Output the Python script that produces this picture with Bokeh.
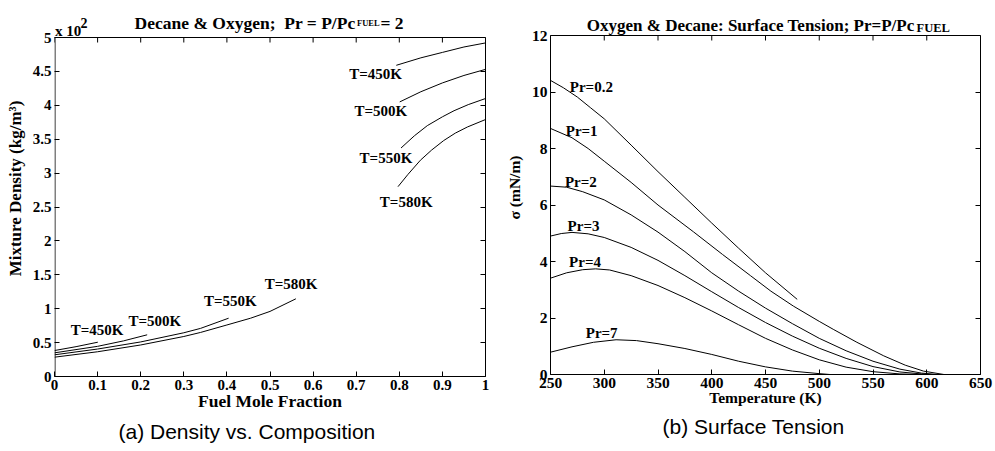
import math
from bokeh.plotting import figure
from bokeh.layouts import row
from bokeh.models import Range1d, FixedTicker, CustomJSTickFormatter, LinearAxis, Title
from bokeh.core.properties import value
from bokeh.embed import file_html
from bokeh.resources import INLINE

SERIF = "Liberation Serif"
SANS = "Liberation Sans"

# ---------------- (a) Density vs. Composition  (y in units of 100 kg/m^3)
x_ticks_a = [0, 0.1, 0.2, 0.3, 0.4, 0.5, 0.6, 0.7, 0.8, 0.9, 1.0]
y_ticks_a = [0, 0.5, 1, 1.5, 2, 2.5, 3, 3.5, 4, 4.5, 5]

# liquid branch
liq450_x = [0.793, 0.85, 0.9, 0.95, 1.0]
liq450_y = [4.59, 4.70, 4.78, 4.86, 4.92]
liq500_x = [0.801, 0.85, 0.9, 0.95, 1.0]
liq500_y = [4.05, 4.20, 4.33, 4.44, 4.53]
liq550_x = [0.804, 0.835, 0.865, 0.9, 0.927, 0.96, 1.0]
liq550_y = [3.37, 3.55, 3.70, 3.83, 3.92, 4.01, 4.10]
liq580_x = [0.797, 0.82, 0.849, 0.875, 0.903, 0.93, 0.958, 1.0]
liq580_y = [2.80, 2.98, 3.19, 3.34, 3.48, 3.59, 3.68, 3.79]
# vapour branch
vap450_x = [0.0, 0.05, 0.1005]
vap450_y = [0.383, 0.44, 0.506]
vap500_x = [0.0, 0.1, 0.16, 0.215]
vap500_y = [0.349, 0.445, 0.525, 0.615]
vap550_x = [0.0, 0.1, 0.2, 0.3, 0.339, 0.404]
vap550_y = [0.32, 0.405, 0.51, 0.645, 0.71, 0.86]
vap580_x = [0.0, 0.1, 0.2, 0.3, 0.339, 0.4, 0.455, 0.5, 0.56]
vap580_y = [0.285, 0.365, 0.465, 0.59, 0.65, 0.76, 0.86, 0.96, 1.146]

lab_a_text = ["T=450K", "T=500K", "T=550K", "T=580K",
              "T=450K", "T=500K", "T=550K", "T=580K"]
lab_a_x = [0.0986, 0.233, 0.408, 0.549, 0.745, 0.757, 0.769, 0.816]
lab_a_y = [0.693, 0.814, 1.109, 1.367, 4.465, 3.92, 3.23, 2.577]

# ---------------- (b) Surface tension
x_ticks_b = [250, 300, 350, 400, 450, 500, 550, 600, 650]
y_ticks_b = [0, 2, 4, 6, 8, 10, 12]

pr02_T = [250, 262, 275, 287, 300, 325, 350, 375, 400, 425, 450, 479.5]
pr02_s = [10.41, 10.15, 9.82, 9.45, 9.05, 8.12, 7.18, 6.27, 5.36, 4.47, 3.6, 2.66]
pr1_T = [250, 270, 285, 300, 325, 350, 383, 410, 436, 455, 476, 500, 513, 535, 560, 580, 597, 616]
pr1_s = [8.71, 8.38, 8.0, 7.55, 6.8, 6.0, 5.05, 4.25, 3.5, 2.95, 2.42, 1.88, 1.6, 1.14, 0.66, 0.33, 0.12, 0.0]
pr2_T = [250, 265, 280, 300, 325, 350, 375, 400, 425, 450, 475, 500, 525, 550, 575, 595, 610]
pr2_s = [6.67, 6.63, 6.47, 6.18, 5.65, 5.04, 4.35, 3.6, 2.95, 2.35, 1.8, 1.28, 0.84, 0.47, 0.19, 0.05, 0.0]
pr3_T = [250, 260, 270, 285, 300, 325, 350, 375, 400, 425, 450, 475, 500, 525, 550, 575, 595, 605]
pr3_s = [4.9, 4.99, 5.03, 4.98, 4.85, 4.5, 4.04, 3.5, 2.93, 2.37, 1.84, 1.36, 0.93, 0.57, 0.28, 0.09, 0.02, 0.0]
pr4_T = [250, 265, 280, 292, 305, 325, 350, 375, 400, 425, 450, 475, 500, 525, 550, 575, 595]
pr4_s = [3.41, 3.6, 3.71, 3.74, 3.7, 3.5, 3.15, 2.72, 2.25, 1.76, 1.28, 0.87, 0.52, 0.26, 0.1, 0.02, 0.0]
pr7_T = [250, 270, 290, 311, 330, 350, 375, 400, 425, 450, 475, 500, 510]
pr7_s = [0.79, 0.98, 1.14, 1.23, 1.2, 1.09, 0.92, 0.71, 0.47, 0.27, 0.12, 0.03, 0.0]

lab_b_text = ["Pr=0.2", "Pr=1", "Pr=2", "Pr=3", "Pr=4", "Pr=7"]
lab_b_x = [288, 279, 278.2, 280.7, 282.1, 297.6]
lab_b_y = [10.18, 8.63, 6.82, 5.26, 4.0, 1.48]


num_fmt = "return parseFloat(tick.toFixed(2)).toString();"
blank_fmt = "return '';"


def style_axis(ax, ticks, fsize, bounds=None, blank=False):
    ax.ticker = FixedTicker(ticks=ticks)
    ax.formatter = CustomJSTickFormatter(code=blank_fmt if blank else num_fmt)
    if bounds is not None:
        ax.bounds = bounds
    ax.major_tick_in = 5
    ax.major_tick_out = 0
    ax.minor_tick_line_color = None
    ax.axis_line_color = "black"
    ax.major_tick_line_color = "black"
    ax.major_label_text_font = SERIF
    ax.major_label_text_font_style = "bold"
    ax.major_label_text_color = "black"
    ax.major_label_text_font_size = "1px" if blank else fsize
    ax.major_label_standoff = 0 if blank else 3
    ax.axis_label_text_font = SERIF
    ax.axis_label_text_font_style = "bold"
    ax.axis_label_text_color = "black"


def make_fig(xr, yr, fw, fh, bl, br, bb):
    p = figure(frame_width=fw, frame_height=fh, x_range=Range1d(*xr), y_range=Range1d(*yr),
               output_backend="svg", toolbar_location=None,
               min_border_left=bl, min_border_right=br, min_border_top=0, min_border_bottom=bb)
    p.grid.visible = False
    p.outline_line_color = None
    p.background_fill_color = "white"
    p.border_fill_color = "white"
    return p


def box(p, xr, yr, xt, yt):
    # right axis (ticks inside, no labels) limited to the data box
    ra = LinearAxis()
    style_axis(ra, yt, "1px", bounds=yr, blank=True)
    p.add_layout(ra, "right")
    # top edge and its inward ticks
    p.line([xr[0], xr[1]], [yr[1], yr[1]], line_color="black", line_width=1)
    p.ray(x=xt, y=[yr[1]] * len(xt), length=5, length_units="screen", angle=-math.pi / 2,
          line_color="black", line_width=1)


def txt(p, x, y, text, size, font=SERIF, style="bold", align="left", base="alphabetic"):
    p.text(x=[x], y=[y], text=[text], text_font=value(font), text_font_style=style,
           text_font_size=size, text_color="black", text_align=align, text_baseline=base)


def caption(p, text, offset):
    t = Title(text=text, align="left", offset=offset, standoff=8,
              text_font=SANS, text_font_style="normal", text_font_size="21px", text_color="black")
    p.add_layout(t, "below")


# ---------- figure (a): frame extends up to the window top so the heading can live inside it
A_TOP = 5 * 376 / 339
ppu_a = 339 / 5.0       # pixels per y unit
ppx_a = 431 / 1.0       # pixels per x unit
pa = make_fig((0, 1), (0, A_TOP), 431, 376, 54, 15, 75)
style_axis(pa.xaxis[0], x_ticks_a, "15px")
style_axis(pa.yaxis[0], y_ticks_a, "15px")
pa.yaxis[0].axis_line_color = None
pa.line([0.5 / ppx_a, 0.5 / ppx_a], [0, 5], line_color="black", line_width=1)   # left edge of box
pa.xaxis.axis_label = "Fuel Mole Fraction"
pa.yaxis.axis_label = "Mixture Density (kg/m³)"
pa.xaxis.axis_label_text_font_size = "17.5px"
pa.yaxis.axis_label_text_font_size = "17px"
pa.xaxis.axis_label_standoff = -2
pa.yaxis.axis_label_standoff = 5
box(pa, (0, 1), (0, 5), x_ticks_a, y_ticks_a)

for xs, ys in [(liq450_x, liq450_y), (liq500_x, liq500_y), (liq550_x, liq550_y), (liq580_x, liq580_y),
               (vap450_x, vap450_y), (vap500_x, vap500_y), (vap550_x, vap550_y), (vap580_x, vap580_y)]:
    pa.line(xs, ys, line_color="black", line_width=1)

pa.text(x=lab_a_x, y=lab_a_y, text=lab_a_text, text_font=value(SERIF), text_font_style="bold",
        text_font_size="15px", text_align="center", text_baseline="middle", text_color="black")

txt(pa, 301 / ppx_a, 5 + 14.3 / ppu_a, "Decane & Oxygen;\u00a0 Pr = P/Pc", "17.5px", align="right")
txt(pa, 302.5 / ppx_a, 5 + 15.0 / ppu_a, "FUEL", "8.5px")
txt(pa, 326 / ppx_a, 5 + 14.3 / ppu_a, "= 2", "17.5px")
txt(pa, 0.5 / ppx_a, 5 + 6.3 / ppu_a, "x 10", "15px")
txt(pa, 26 / ppx_a, 5 + 14.3 / ppu_a, "2", "14px")
caption(pa, "(a) Density vs. Composition", 64)

# ---------- figure (b)
B_TOP = 12 * 374 / 339
ppu_b = 339 / 12.0
ppx_b = 430 / 400.0
pb = make_fig((250, 650), (0, B_TOP), 430, 374, 50, 15, 77)
style_axis(pb.xaxis[0], x_ticks_b, "15.5px")
style_axis(pb.yaxis[0], y_ticks_b, "15.5px", bounds=(0, 12))
pb.xaxis.axis_label = "Temperature (K)"
pb.yaxis.axis_label = "σ (mN/m)"
pb.xaxis.axis_label_text_font_size = "15.5px"
pb.yaxis.axis_label_text_font_size = "15.5px"
pb.xaxis.axis_label_standoff = -2
pb.yaxis.axis_label_standoff = 6
box(pb, (250, 650), (0, 12), x_ticks_b, y_ticks_b)

for xs, ys in [(pr02_T, pr02_s), (pr1_T, pr1_s), (pr2_T, pr2_s), (pr3_T, pr3_s),
               (pr4_T, pr4_s), (pr7_T, pr7_s)]:
    pb.line(xs, ys, line_color="black", line_width=1)

pb.text(x=lab_b_x, y=lab_b_y, text=lab_b_text, text_font=value(SERIF), text_font_style="bold",
        text_font_size="15px", text_align="center", text_baseline="middle", text_color="black")

txt(pb, 250 + 364 / ppx_b, 12 + 10 / ppu_b, "Oxygen & Decane: Surface Tension; Pr=P/Pc", "17px",
    align="right")
txt(pb, 250 + 366 / ppx_b, 12 + 7.3 / ppu_b, "FUEL", "12.5px")
caption(pb, "(b) Surface Tension", 112)

layout = row(pa, pb)
open("out.html", "w").write(file_html(layout, INLINE))
